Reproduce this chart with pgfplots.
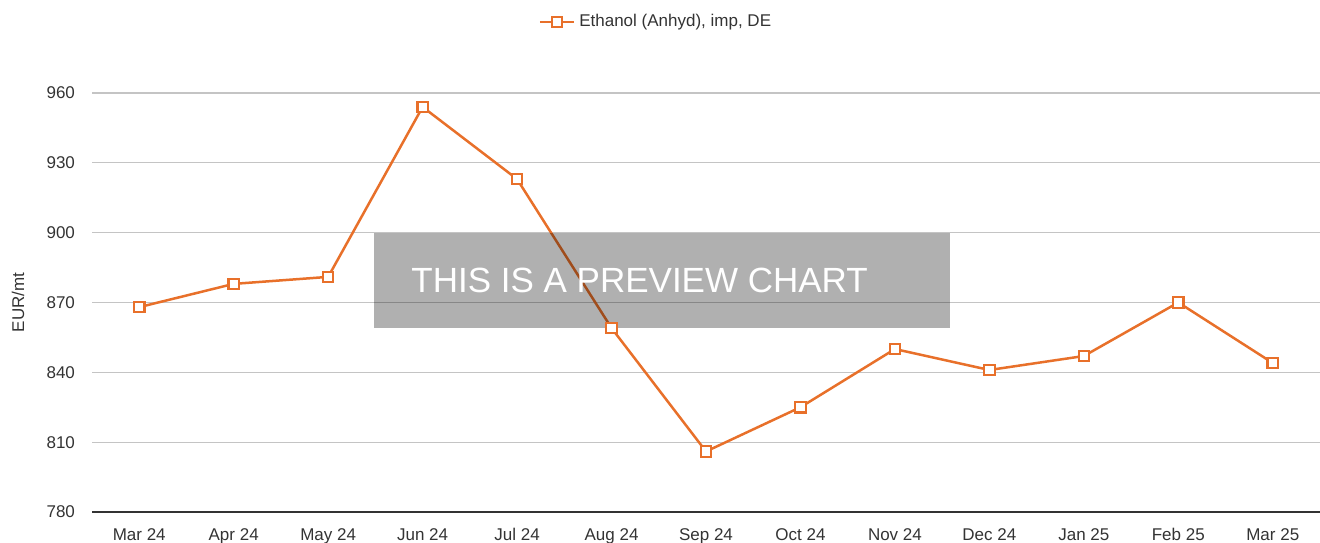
\documentclass[border=0pt]{standalone}
\usepackage{fontspec}
\setmainfont{Liberation Sans}
\usepackage{pgfplots}
\pgfplotsset{compat=1.18}
\definecolor{lineor}{HTML}{E8702A}
\definecolor{gridc}{HTML}{C4C4C4}
\definecolor{txt}{HTML}{333333}
\begin{document}
\begin{tikzpicture}
\begin{axis}[
  scale only axis,
  width=614pt, height=209.5pt,
  xmin=-0.5, xmax=12.5,
  ymin=780, ymax=960,
  ytick={780,810,840,870,900,930,960},
  xtick={0,...,12},
  xticklabels={Mar 24,Apr 24,May 24,Jun 24,Jul 24,Aug 24,Sep 24,Oct 24,Nov 24,Dec 24,Jan 25,Feb 25,Mar 25},
  ymajorgrids, major grid style={gridc, line width=0.6pt},
  axis x line*=bottom, axis y line*=left,
  x axis line style={draw=txt, line width=0.8pt, -},
  y axis line style={draw=none},
  major tick length=0pt,
  tick label style={font=\fontsize{8.5}{10}\selectfont, text=txt},
  /pgf/number format/assume math mode=true,
  /pgf/number format/1000 sep={},
  yticklabel style={xshift=-5pt},
  xticklabel style={yshift=-4pt, text height=6.5pt, text depth=1.8pt},
  ylabel={EUR/mt},
  ylabel style={font=\fontsize{8.5}{10}\selectfont, text=txt,
    at={(axis description cs:-0.0603,0.5)}, anchor=center},
  legend style={at={(0.46,1)}, anchor=center, yshift=35.5pt, draw=none, fill=none,
    font=\fontsize{8.5}{10}\selectfont, text=txt},
  legend cell align=left,
  clip=false,
]
\addplot[lineor, line width=1.25pt, mark=square*, mark size=2.6pt,
  mark options={fill=white, line width=1.1pt}]
  coordinates {
  (0,868) (1,878) (2,881) (3,954) (4,923) (5,859) (6,806) (7,825)
  (8,850) (9,841) (10,847) (11,870) (12,844)
  };
\addlegendentry{Ethanol (Anhyd), imp, DE}
\fill[black, opacity=0.31] (axis cs:2.485,859.1) rectangle (axis cs:8.58,900);
\node[anchor=base west, text=white, inner sep=0pt, font=\fontsize{17.5}{21}\selectfont]
  at (axis cs:2.877,874.5) {THIS IS A PREVIEW CHART};
\coordinate (bl) at ([xshift=-46pt,yshift=-15.5pt]rel axis cs:0,0);
\coordinate (tr) at ([yshift=46.5pt]rel axis cs:1,1);
\end{axis}
\pgfresetboundingbox
\path[use as bounding box] (bl) rectangle (tr);
\end{tikzpicture}
\end{document}
